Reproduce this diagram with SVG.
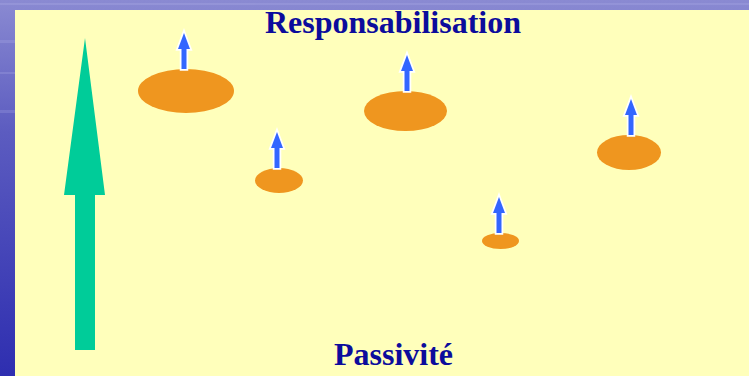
<svg xmlns="http://www.w3.org/2000/svg" width="749" height="376" viewBox="0 0 749 376">
  <defs>
    <linearGradient id="bg" x1="0" y1="0" x2="0" y2="1">
      <stop offset="0" stop-color="#8a8ad2"/>
      <stop offset="0.35" stop-color="#5c5cc0"/>
      <stop offset="1" stop-color="#2e2eb0"/>
    </linearGradient>
    <!-- small upward arrow, origin at the tip -->
    <path id="up" d="M0,0 L6,16 L2.5,16 L2.5,36 L-2.5,36 L-2.5,16 L-6,16 Z"/>
    <style>
      .title { font-family: "Liberation Serif", "Times New Roman", serif; font-weight: bold; font-size: 32px; fill: #0c0c9c; text-anchor: middle; }
      .blob { fill: #ef961f; }
      .tick { fill: #3366ff; stroke: #ffffff; stroke-width: 3.5; stroke-linejoin: miter; paint-order: stroke; }
      .main { fill: #00cc99; }
    </style>
  </defs>

  <!-- backdrop -->
  <rect x="0" y="0" width="749" height="376" fill="url(#bg)"/>
  <g opacity="0.2" fill="#c0c0f0">
    <rect x="0" y="3" width="749" height="2"/>
    <rect x="0" y="40" width="15" height="3"/>
    <rect x="0" y="72" width="15" height="2"/>
    <rect x="0" y="110" width="15" height="3"/>
  </g>
  <rect x="15" y="10" width="734" height="366" fill="#ffffbb"/>

  <!-- labels -->
  <text class="title" x="393" y="33">Responsabilisation</text>
  <text class="title" x="393.5" y="365">Passivité</text>

  <!-- main scale arrow -->
  <g id="scale">
    <path class="main" d="M85,38 L105,195 L95,195 L95,350 L75,350 L75,195 L64,195 Z"/>
  </g>

  <g id="n1">
    <ellipse class="blob" cx="186" cy="91" rx="48" ry="22"/>
    <use class="tick" href="#up" x="184" y="33"/>
  </g>
  <g id="n2">
    <ellipse class="blob" cx="279" cy="180.5" rx="24" ry="12.5"/>
    <use class="tick" href="#up" x="277" y="132"/>
  </g>
  <g id="n3">
    <ellipse class="blob" cx="405.5" cy="111" rx="41.5" ry="20"/>
    <use class="tick" href="#up" x="407" y="55"/>
  </g>
  <g id="n4">
    <ellipse class="blob" cx="500.5" cy="241" rx="18.5" ry="8"/>
    <use class="tick" href="#up" x="499" y="197"/>
  </g>
  <g id="n5">
    <ellipse class="blob" cx="629" cy="152.5" rx="32" ry="17.5"/>
    <use class="tick" href="#up" x="631" y="99"/>
  </g>
</svg>
